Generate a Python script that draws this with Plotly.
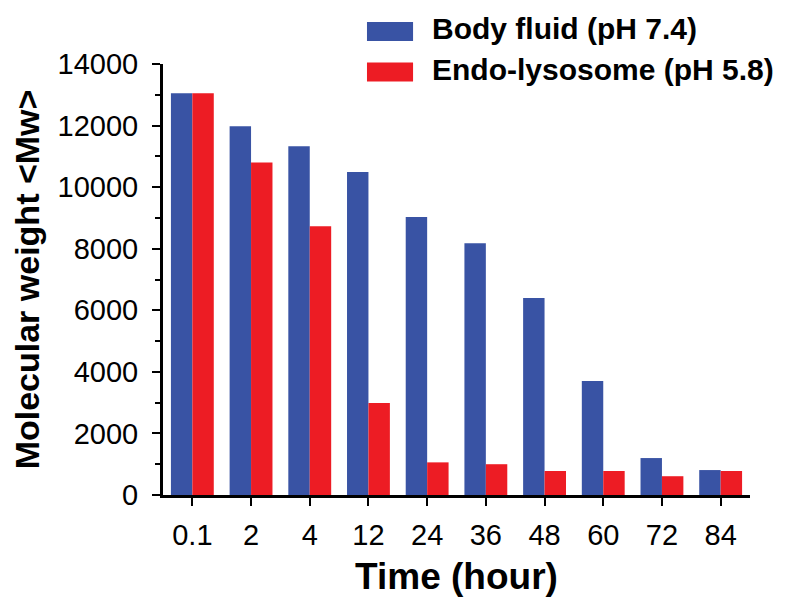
import plotly.graph_objects as go

# data
times = ['0.1', '2', '4', '12', '24', '36', '48', '60', '72', '84']
body_fluid = [13050, 11980, 11330, 10490, 9030, 8180, 6400, 3700, 1200, 810]
endo_lysosome = [13050, 10800, 8730, 2990, 1060, 1000, 780, 780, 610, 780]

blue = '#3953A4'
red = '#ED1C24'
font_main = 'Liberation Sans, Arial, sans-serif'

fig = go.Figure()
fig.add_trace(go.Bar(x=times, y=body_fluid, name='Body fluid (pH 7.4)',
                     marker=dict(color=blue, line=dict(width=0)), showlegend=False))
fig.add_trace(go.Bar(x=times, y=endo_lysosome, name='Endo-lysosome (pH 5.8)',
                     marker=dict(color=red, line=dict(width=0)), showlegend=False))

# legend drawn by hand so the swatches are wide like the original
legend_items = [('Body fluid (pH 7.4)', blue), ('Endo-lysosome (pH 5.8)', red)]
for i, (label, col) in enumerate(legend_items):
    y0 = 1.0754 - i * 0.094
    fig.add_shape(type='rect', xref='paper', yref='paper',
                  x0=0.3475, x1=0.426, y0=y0 - 0.022, y1=y0 + 0.022,
                  fillcolor=col, line=dict(width=0))
    fig.add_annotation(xref='paper', yref='paper', x=0.455, y=y0 + 0.006,
                       xanchor='left', yanchor='middle', showarrow=False,
                       text='<b>%s</b>' % label,
                       font=dict(family=font_main, size=30, color='black'))

# the page body adds an 8px offset, margins are shifted for that
fig.update_layout(
    width=797, height=612,
    margin=dict(l=155, r=55, t=56, b=125),
    plot_bgcolor='white', paper_bgcolor='white',
    barmode='group', bargap=0.27, bargroupgap=0,
    font=dict(family=font_main, size=22, color='black'),
    xaxis=dict(
        type='category', range=[-0.5, 9.5], automargin=False,
        showline=True, linecolor='black', linewidth=3,
        ticks='outside', ticklen=8, tickwidth=2, tickcolor='black',
        ticklabelstandoff=4,
        tickfont=dict(size=29), showgrid=False, zeroline=False,
        title=dict(text='<b>Time (hour)</b>', font=dict(size=37), standoff=14),
    ),
    yaxis=dict(
        range=[0, 14000], tickvals=list(range(0, 14001, 2000)), tickformat='d',
        automargin=False,
        showline=True, linecolor='black', linewidth=3,
        ticks='outside', ticklen=8, tickwidth=2, tickcolor='black',
        ticklabelstandoff=8,
        minor=dict(dtick=1000, ticks='outside', ticklen=5, tickwidth=2, tickcolor='black'),
        tickfont=dict(size=29), showgrid=False, zeroline=False,
        title=dict(text='<b>Molecular weight &lt;Mw&gt;</b>', font=dict(size=34), standoff=10),
    ),
)

fig.write_html("out.html")
